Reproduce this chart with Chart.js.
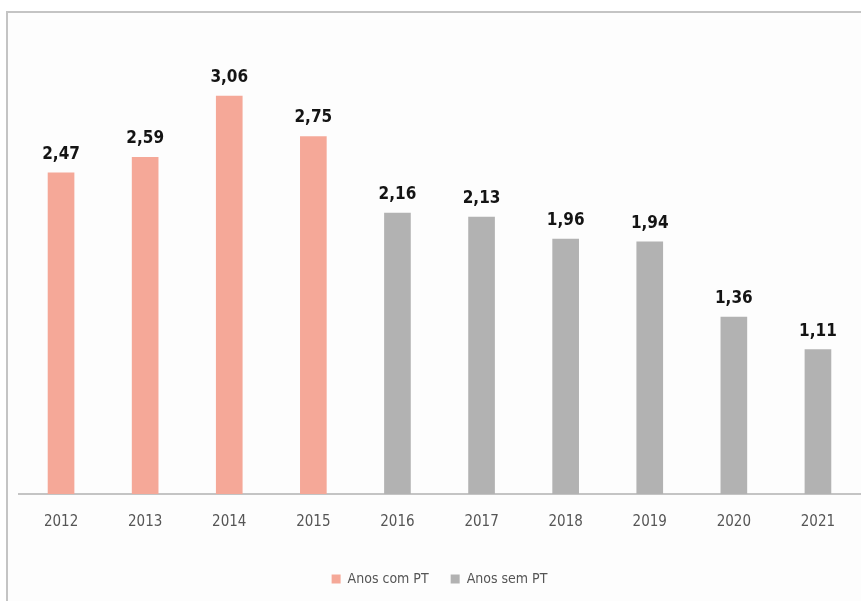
<!DOCTYPE html>
<html>
<head>
<meta charset="utf-8">
<script src="https://cdn.jsdelivr.net/npm/chart.js@4"></script>
<style>
  html, body { margin: 0; padding: 0; background: #fff; }
  #wrap { width: 861px; height: 601px; position: relative; }
</style>
</head>
<body>
<div id="wrap"><canvas id="chart" width="861" height="601"></canvas></div>
<script>
const years = ['2012', '2013', '2014', '2015', '2016', '2017', '2018', '2019', '2020', '2021'];
const comPT = [2.47, 2.59, 3.06, 2.75, null, null, null, null, null, null];
const semPT = [null, null, null, null, 2.16, 2.13, 1.96, 1.94, 1.36, 1.11];
const seriesNames = ['Anos com PT', 'Anos sem PT'];
const seriesColors = ['#f5a898', '#b2b2b2'];

const frame = {
  id: 'frame',
  beforeDraw(chart) {
    const ctx = chart.ctx;
    ctx.save();
    ctx.fillStyle = '#fdfdfd';
    ctx.fillRect(7, 12, chart.width - 7, chart.height - 12);
    ctx.strokeStyle = '#c4c4c4';
    ctx.lineWidth = 2;
    ctx.beginPath();
    ctx.moveTo(7, chart.height);
    ctx.lineTo(7, 12);
    ctx.lineTo(chart.width, 12);
    ctx.stroke();
    ctx.restore();
  }
};

const valueLabels = {
  id: 'valueLabels',
  afterDatasetsDraw(chart) {
    const ctx = chart.ctx;
    ctx.save();
    ctx.font = 'bold 17px "DejaVu Sans Condensed", sans-serif';
    ctx.fillStyle = '#141414';
    ctx.textAlign = 'center';
    ctx.textBaseline = 'bottom';
    chart.data.datasets.forEach((ds, i) => {
      chart.getDatasetMeta(i).data.forEach((bar, j) => {
        const v = ds.data[j];
        if (v == null) return;
        ctx.fillText(v.toFixed(2).replace('.', ','), bar.x, bar.y - 10);
      });
    });
    ctx.restore();
  }
};

new Chart(document.getElementById('chart'), {
  type: 'bar',
  data: {
    labels: years,
    datasets: [
      { label: seriesNames[0], data: comPT, backgroundColor: seriesColors[0] },
      { label: seriesNames[1], data: semPT, backgroundColor: seriesColors[1] },
    ],
  },
  options: {
    responsive: false,
    animation: false,
    layout: { padding: { left: 19, right: 1, top: 39, bottom: 5 } },
    datasets: { bar: { barThickness: 26 } },
    scales: {
      x: {
        stacked: true,
        grid: { display: false, drawTicks: false },
        border: { color: '#c4c4c4', width: 2 },
        ticks: {
          color: '#555',
          padding: 19,
          font: { family: '"DejaVu Sans Condensed", sans-serif', size: 15 },
        },
      },
      y: {
        stacked: true,
        display: false,
        min: 0,
        max: 3.5,
      },
    },
    plugins: {
      legend: {
        position: 'bottom',
        labels: {
          boxWidth: 9,
          boxHeight: 9,
          padding: 22,
          color: '#555',
          font: { family: '"DejaVu Sans Condensed", sans-serif', size: 14 },
        },
      },
      tooltip: { enabled: false },
    },
  },
  plugins: [frame, valueLabels],
});
</script>
</body>
</html>
